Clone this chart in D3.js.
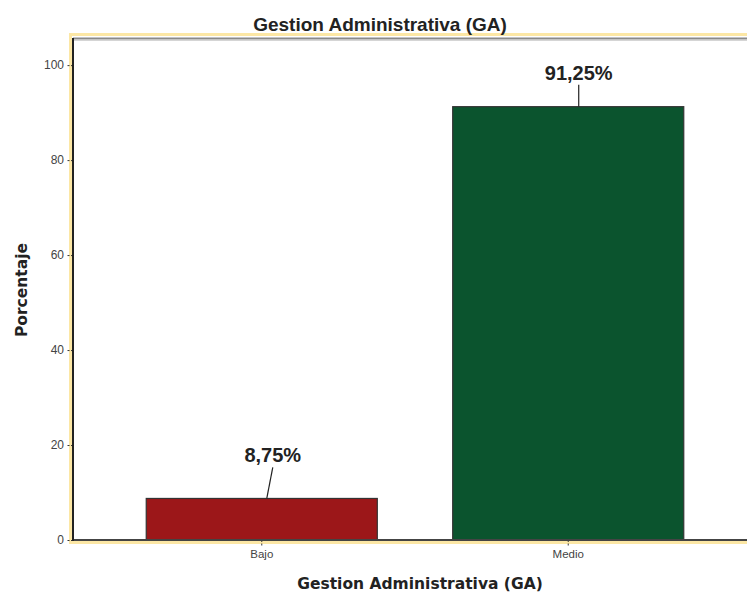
<!DOCTYPE html>
<html><head><meta charset="utf-8">
<script src="https://cdn.jsdelivr.net/npm/d3@7"></script>
<style>body{margin:0;background:#fff}svg{display:block}</style>
</head><body>
<svg id="c" width="747" height="594"></svg>
<script>
const categories = ["Bajo", "Medio"];
const values = [8.75, 91.25];
const labels = ["8,75%", "91,25%"];
const colors = ["#9C1719", "#0B542E"];
const yTicks = [0, 20, 40, 60, 80, 100];

const svg = d3.select("#c");
const L = 73, T = 39, B = 540, R = 757;
const x = d3.scaleBand().domain(categories).range([L, R]).paddingInner(0.246).paddingOuter(0.239);
const y = d3.scaleLinear().domain([0, 105.5]).range([B, T]);

// frame
svg.append("rect").attr("x", 70.5).attr("y", 34.5).attr("width", 720).attr("height", 508)
  .attr("fill", "none").attr("stroke", "#FCE7A5").attr("stroke-width", 3);
svg.append("line").attr("x1", L).attr("x2", 760).attr("y1", 38.5).attr("y2", 38.5)
  .attr("stroke", "#8a8a8a").attr("stroke-width", 2);
svg.append("line").attr("x1", L).attr("x2", 760).attr("y1", 40.5).attr("y2", 40.5)
  .attr("stroke", "#d5d5d5").attr("stroke-width", 1);

// bars
svg.selectAll("rect.bar").data(categories).join("rect").attr("class", "bar")
  .attr("x", d => x(d)).attr("width", x.bandwidth())
  .attr("y", (d, i) => y(values[i])).attr("height", (d, i) => y(0) - y(values[i]))
  .attr("fill", (d, i) => colors[i]).attr("stroke", "#333").attr("stroke-width", 1.2);

// axes
const yAxis = svg.append("g").attr("transform", `translate(${L},0)`)
  .call(d3.axisLeft(y).tickValues(yTicks).tickSize(7).tickPadding(2));
yAxis.select(".domain").remove();
yAxis.selectAll("line").attr("stroke", "#333").attr("stroke-dasharray", "2,1.5");
yAxis.selectAll("text").attr("font-family", "Liberation Sans, Arial, sans-serif").attr("font-size", 12).attr("fill", "#444");

const xAxis = svg.append("g").attr("transform", `translate(0,${B})`)
  .call(d3.axisBottom(x).tickSize(7).tickPadding(3));
xAxis.select(".domain").remove();
xAxis.selectAll("line").attr("stroke", "#333").attr("stroke-dasharray", "2,1.5");
xAxis.selectAll("text").attr("font-family", "Liberation Sans, Arial, sans-serif").attr("font-size", 11.5).attr("fill", "#444");

svg.append("line").attr("x1", L).attr("x2", 760).attr("y1", B).attr("y2", B).attr("stroke", "#444").attr("stroke-width", 2);
svg.append("line").attr("x1", L).attr("x2", L).attr("y1", T - 1).attr("y2", B + 1).attr("stroke", "#222").attr("stroke-width", 2);

// value labels with leader lines: [bottom dx, top dx, length]
const lead = [[5, 11, 31], [10.5, 10.5, 22]];
categories.forEach((c, i) => {
  const cx = x(c) + x.bandwidth() / 2;
  const top = y(values[i]);
  svg.append("line").attr("x1", cx + lead[i][0]).attr("y1", top).attr("x2", cx + lead[i][1]).attr("y2", top - lead[i][2])
    .attr("stroke", "#222").attr("stroke-width", 1.2);
  svg.append("text").attr("x", cx + lead[i][1]).attr("y", top - lead[i][2] - 5)
    .attr("text-anchor", "middle").attr("font-family", "Liberation Sans, Arial, sans-serif")
    .attr("font-weight", "bold").attr("font-size", 20).attr("fill", "#222").text(labels[i]);
});

// titles
svg.append("text").attr("x", 380).attr("y", 31).attr("text-anchor", "middle")
  .attr("font-family", "Liberation Sans, Arial, sans-serif").attr("font-weight", "bold")
  .attr("font-size", 19).attr("fill", "#222").text("Gestion Administrativa (GA)");
svg.append("text").attr("x", 420).attr("y", 589).attr("text-anchor", "middle")
  .attr("font-family", "DejaVu Sans, Verdana, sans-serif").attr("font-weight", "bold")
  .attr("font-size", 15.5).attr("fill", "#222").text("Gestion Administrativa (GA)");
svg.append("text").attr("transform", "translate(27,290) rotate(-90)").attr("text-anchor", "middle")
  .attr("font-family", "DejaVu Sans, Verdana, sans-serif").attr("font-weight", "bold")
  .attr("font-size", 15.5).attr("fill", "#222").text("Porcentaje");
</script>
</body></html>
